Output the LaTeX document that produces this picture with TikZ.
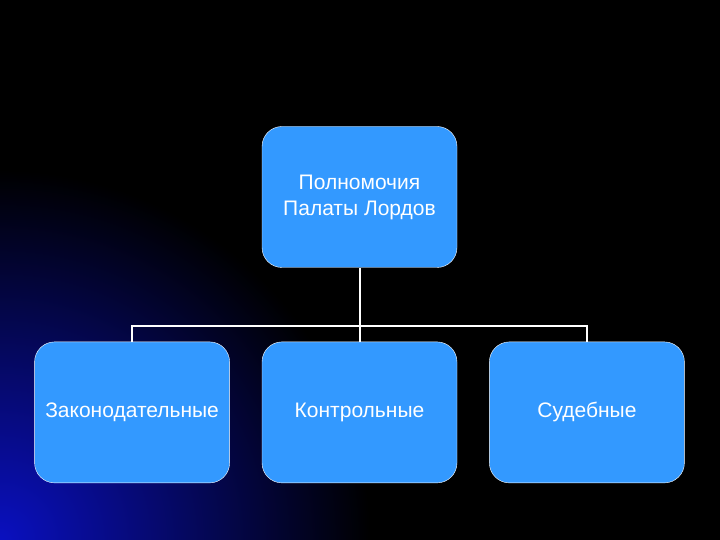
\documentclass[tikz,border=0pt]{standalone}
\usepackage{fontspec}
\setmainfont{Liberation Sans}
\usetikzlibrary{positioning}
\definecolor{boxblue}{HTML}{3399FF}
\definecolor{glowblue}{HTML}{0A10C0}
\tikzset{
  unit/.style={rectangle, draw=white, fill=boxblue, rounded corners=20pt,
               minimum width=195pt, minimum height=141pt, align=center,
               text=white, font=\fontsize{21}{26}\selectfont, inner sep=0pt},
  link/.style={draw=white, line width=2pt},
}

\begin{document}
\begin{tikzpicture}[x=1pt, y=1pt]

  % background, blue glow in the lower left corner
  \fill[black] (0,0) rectangle (720,540);
  \begin{scope}
    \clip (0,0) rectangle (720,540);
    \shade[inner color=glowblue, outer color=black] (0,0) circle (370);
  \end{scope}
  \useasboundingbox (0,0) rectangle (720,540);

  \node[unit] (top) at (359.5,343) {Полномочия\\Палаты Лордов};
  \node[unit, below=74pt of top] (ctrl) {Контрольные};
  \node[unit, left=32pt of ctrl] (legis) {Законодательные};
  \node[unit, right=32pt of ctrl] (court) {Судебные};

  \coordinate[below=58pt of top.south] (fork);

  \draw[link] (top.south) -- (fork);
  \draw[link] (legis.north) |- (fork) -| (court.north);
  \draw[link] (fork) -- (ctrl.north);

\end{tikzpicture}
\end{document}
